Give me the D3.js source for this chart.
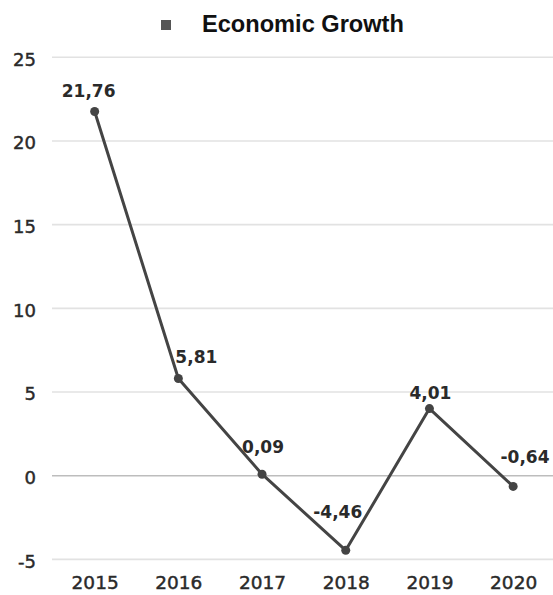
<!DOCTYPE html>
<html>
<head>
<meta charset="utf-8">
<script src="https://cdn.jsdelivr.net/npm/d3@7"></script>
<style>
  html, body { margin: 0; padding: 0; background: #fff; }
  svg { display: block; }
</style>
</head>
<body>
<svg id="chart" width="553" height="595"></svg>
<script>
const years = ["2015", "2016", "2017", "2018", "2019", "2020"];
const growth = [21.76, 5.81, 0.09, -4.46, 4.01, -0.64];
const valueLabels = ["21,76", "5,81", "0,09", "-4,46", "4,01", "-0,64"];
const yTicks = [-5, 0, 5, 10, 15, 20, 25];
const yTickLabels = ["-5", "0", "5", "10", "15", "20", "25"];
const seriesName = "Economic Growth";

const W = 553, H = 595;
const svg = d3.select("#chart");

const x = d3.scalePoint().domain(years).range([52.8, 555]).padding(0.5);
const y = d3.scaleLinear().domain([-5, 25]).range([559.4, 57.3]);

// gridlines
const grid = svg.append("g");
grid.selectAll("line").data(yTicks).join("line")
  .attr("x1", 52).attr("x2", W)
  .attr("y1", d => y(d)).attr("y2", d => y(d))
  .attr("stroke", d => d === 0 ? "#bdbdbd" : "#e2e2e2")
  .attr("stroke-width", 1.6);

// y axis labels
const yAxis = d3.axisLeft(y).tickValues(yTicks).tickSize(0).tickPadding(0)
  .tickFormat((d, i) => yTickLabels[i]);
const gy = svg.append("g").attr("transform", "translate(36,2)").call(yAxis);
gy.select(".domain").remove();
gy.selectAll("text")
  .attr("font-family", "DejaVu Sans")
  .attr("font-size", 18)
  .attr("fill", "#2a2a2a")
  .attr("stroke", "#2a2a2a")
  .attr("stroke-width", 0.45)
  .attr("text-anchor", "end");

// x axis labels
const xAxis = d3.axisBottom(x).tickSize(0).tickPadding(0);
const gx = svg.append("g").attr("transform", "translate(0,576)").call(xAxis);
gx.select(".domain").remove();
gx.selectAll("text")
  .attr("font-family", "DejaVu Sans")
  .attr("font-size", 18.5)
  .attr("fill", "#2a2a2a")
  .attr("stroke", "#2a2a2a")
  .attr("stroke-width", 0.45)
  .attr("dy", 0)
  .attr("y", 13);

// line
const pts = years.map((yr, i) => ({ yr, v: growth[i], label: valueLabels[i] }));
const line = d3.line().x(d => x(d.yr)).y(d => y(d.v));
svg.append("path").datum(pts)
  .attr("d", line)
  .attr("fill", "none")
  .attr("stroke", "#444")
  .attr("stroke-width", 3)
  .attr("stroke-linejoin", "round");

svg.append("g").selectAll("circle").data(pts).join("circle")
  .attr("cx", d => x(d.yr)).attr("cy", d => y(d.v))
  .attr("r", 4.5).attr("fill", "#444");

// data labels (placement offsets chosen per point to avoid the line)
const labelShift = [[-6, -15], [18, -15], [1, -21], [-8, -32], [1, -10], [12, -23]];
svg.append("g").selectAll("text").data(pts).join("text")
  .attr("x", (d, i) => Math.min(x(d.yr) + labelShift[i][0], W - 28))
  .attr("y", (d, i) => y(d.v) + labelShift[i][1])
  .attr("text-anchor", "middle")
  .attr("font-family", "DejaVu Sans")
  .attr("font-weight", "bold")
  .attr("font-size", 17)
  .attr("fill", "#2a2a2a")
  .text(d => d.label);

// legend
const lg = svg.append("g");
lg.append("rect").attr("x", 161).attr("y", 20).attr("width", 10).attr("height", 10).attr("fill", "#555");
lg.append("text").attr("x", 202).attr("y", 32)
  .attr("font-family", "Liberation Sans, Arial, sans-serif")
  .attr("font-weight", "bold")
  .attr("font-size", 23.6)
  .attr("fill", "#111")
  .text(seriesName);
</script>
</body>
</html>
